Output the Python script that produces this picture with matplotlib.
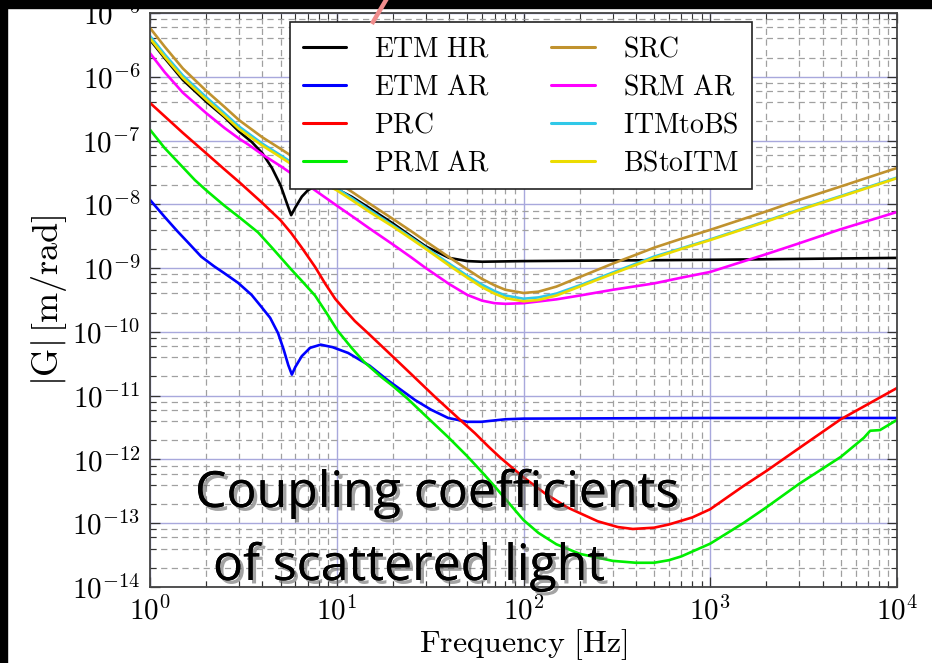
import numpy as np
import matplotlib
matplotlib.use("Agg")
import matplotlib.pyplot as plt
from matplotlib.ticker import FixedLocator, FuncFormatter, NullFormatter
from matplotlib.patches import Rectangle
from matplotlib.lines import Line2D
import matplotlib.patheffects as pe

plt.rcParams['mathtext.fontset'] = 'cm'

# ---------------- data (log10 of |G| in m/rad) ----------------
f_etm_hr = [1, 1.2, 1.5, 2, 2.5, 3, 3.5, 4, 4.5, 5, 5.4, 5.7, 6.0, 6.5, 7, 7.5, 8.5, 10, 12, 15, 20, 25, 30, 40,
            50, 60, 100, 1000, 10000]
g_etm_hr = [-5.42, -5.71, -6.05, -6.39, -6.63, -6.86, -7.02, -7.20, -7.43, -7.70, -7.98, -8.17, -8.05, -7.88,
            -7.78, -7.73, -7.70, -7.76, -7.88, -8.06, -8.30, -8.50, -8.66, -8.84, -8.89, -8.90, -8.89, -8.87, -8.84]

f_etm_ar = [1, 1.2, 1.4, 1.6, 1.88, 2.2, 2.5, 2.96, 3.5, 3.93, 4.4, 4.85, 5.2, 5.5, 5.75, 6.0, 6.5, 7.2, 8.2, 9.5,
            11.5, 15, 18.8, 26.3, 32, 39.5, 50, 59.4, 80, 100, 1000, 10000]
g_etm_ar = [-7.93, -8.20, -8.42, -8.60, -8.82, -8.97, -9.08, -9.23, -9.42, -9.60, -9.78, -10.02, -10.28, -10.52,
            -10.67, -10.55, -10.38, -10.25, -10.20, -10.24, -10.33, -10.53, -10.76, -11.07, -11.22, -11.35, -11.41,
            -11.41, -11.37, -11.36, -11.35, -11.35]

f_prc = [1, 1.5, 2, 2.5, 3, 4, 5, 5.7, 6.5, 7.65, 8.7, 9.8, 11, 12.5, 14.7, 20, 25, 33.6, 45, 55, 65, 75, 100,
         130, 171, 250, 320, 385, 500, 600, 800, 1000, 1500, 2000, 3000, 5000, 10000]
g_prc = [-6.41, -6.88, -7.20, -7.45, -7.65, -7.98, -8.25, -8.45, -8.68, -8.98, -9.25, -9.48, -9.65, -9.83,
         -10.02, -10.39, -10.66, -11.02, -11.36, -11.59, -11.80, -11.97, -12.28, -12.53, -12.75, -12.97, -13.06,
         -13.09, -13.07, -13.02, -12.91, -12.78, -12.42, -12.18, -11.82, -11.37, -10.88]

f_prm_ar = [1, 1.2, 1.5, 1.74, 2, 2.5, 3, 3.79, 4.5, 5.7, 6.5, 7.65, 8.8, 10.1, 12, 14, 17.2, 20, 24, 30, 39.5,
            50, 60, 70, 80, 100, 120, 150, 200, 300, 400, 500, 600, 700, 1000, 1500, 2000, 3000, 5000, 6650,
            7180, 8100, 10000]
g_prm_ar = [-6.83, -7.12, -7.42, -7.62, -7.78, -8.02, -8.20, -8.44, -8.68, -9.02, -9.20, -9.43, -9.70, -9.98,
            -10.25, -10.47, -10.70, -10.85, -11.05, -11.32, -11.65, -11.95, -12.20, -12.42, -12.62, -12.95,
            -13.15, -13.33, -13.48, -13.59, -13.62, -13.62, -13.58, -13.52, -13.32, -13.00, -12.75, -12.38,
            -11.96, -11.66, -11.55, -11.54, -11.38]

f_src = [1, 1.2, 1.5, 2, 2.5, 3, 4, 5, 6, 7, 8, 10, 12, 15, 20, 25, 30, 40, 50, 60, 70, 80, 100, 120, 150, 200,
         300, 400, 500, 700, 1000, 2000, 3000, 5000, 10000]
g_src = [-5.235, -5.53, -5.87, -6.22, -6.47, -6.68, -6.95, -7.13, -7.28, -7.40, -7.50, -7.65, -7.80, -7.99,
         -8.23, -8.42, -8.58, -8.83, -9.02, -9.17, -9.27, -9.34, -9.39, -9.37, -9.29, -9.14, -8.93, -8.79, -8.68,
         -8.54, -8.40, -8.11, -7.93, -7.72, -7.43]

f_srm_ar = [1, 1.2, 1.5, 2, 2.5, 3, 3.35, 4, 5, 6, 7, 8, 10, 12, 15, 20, 25, 30, 40, 50, 60, 70, 80, 100, 150,
            200, 300, 500, 700, 1000, 2000, 3000, 5000, 10000]
g_srm_ar = [-5.63, -5.93, -6.25, -6.57, -6.80, -6.97, -7.06, -7.22, -7.40, -7.56, -7.70, -7.82, -8.02, -8.18,
            -8.38, -8.63, -8.83, -9.00, -9.25, -9.42, -9.51, -9.55, -9.56, -9.55, -9.49, -9.43, -9.34, -9.24,
            -9.15, -9.06, -8.78, -8.61, -8.39, -8.12]

f_itm_bs = [1, 1.2, 1.5, 2, 2.5, 3, 4, 5, 6, 7, 8, 10, 12, 15, 20, 25, 30, 40, 50, 60, 70, 80, 100, 120, 150,
            200, 300, 400, 500, 700, 1000, 2000, 3000, 5000, 10000]
g_itm_bs = [-5.36, -5.65, -5.98, -6.32, -6.57, -6.78, -7.05, -7.23, -7.38, -7.50, -7.60, -7.75, -7.90, -8.09,
            -8.33, -8.52, -8.68, -8.93, -9.12, -9.26, -9.36, -9.43, -9.48, -9.46, -9.40, -9.27, -9.07, -8.93,
            -8.82, -8.69, -8.55, -8.26, -8.08, -7.87, -7.58]

f_bs_itm = [1, 1.2, 1.5, 2, 2.5, 3, 4, 5, 6, 7, 8, 10, 12, 15, 20, 25, 30, 40, 50, 60, 70, 80, 100, 120, 150,
            200, 300, 400, 500, 700, 1000, 2000, 3000, 5000, 10000]
g_bs_itm = [-5.40, -5.69, -6.02, -6.36, -6.61, -6.82, -7.08, -7.26, -7.41, -7.53, -7.63, -7.78, -7.93, -8.12,
            -8.35, -8.54, -8.70, -8.96, -9.15, -9.30, -9.40, -9.47, -9.52, -9.50, -9.43, -9.29, -9.09, -8.95,
            -8.84, -8.70, -8.56, -8.27, -8.09, -7.88, -7.59]

labels = ['ETM HR', 'ETM AR', 'PRC', 'PRM AR', 'SRC', 'SRM AR', 'ITMtoBS', 'BStoITM']
colors = ['#000000', '#0000ff', '#ff0000', '#00ee00', '#c0922e', '#ff00ff', '#30c8e8', '#ecdc00']
series = [(f_etm_hr, g_etm_hr), (f_etm_ar, g_etm_ar), (f_prc, g_prc), (f_prm_ar, g_prm_ar),
          (f_src, g_src), (f_srm_ar, g_srm_ar), (f_itm_bs, g_itm_bs), (f_bs_itm, g_bs_itm)]

x_decades = [0, 1, 2, 3, 4]
y_decades = [-14, -13, -12, -11, -10, -9, -8, -7, -6, -5]

# ---------------- figure ----------------
W, H = 932, 663
fig = plt.figure(figsize=(W / 100, H / 100), dpi=100, facecolor='white')
ax = fig.add_axes([150 / W, 1 - 587 / H, (897 - 150) / W, (587 - 13) / H])

for (fx, gy), lab, col in zip(series, labels, colors):
    ax.plot(fx, 10 ** np.array(gy), color=col, lw=1.9, label='$\\mathrm{' + lab.replace(' ', '\\ ') + '}$',
            solid_capstyle='round', solid_joinstyle='round')

ax.set_xscale('log')
ax.set_yscale('log')
ax.set_xlim(1, 1e4)
ax.set_ylim(1e-14, 1e-5)

xmaj = [10.0 ** d for d in x_decades]
ymaj = [10.0 ** d for d in y_decades]
xmin = [s * 10.0 ** d for d in x_decades[:-1] for s in range(2, 10)]
ymin = [s * 10.0 ** d for d in y_decades[:-1] for s in (2, 4, 6, 8)]
ax.xaxis.set_major_locator(FixedLocator(xmaj))
ax.yaxis.set_major_locator(FixedLocator(ymaj))
ax.xaxis.set_minor_locator(FixedLocator(xmin))
ax.yaxis.set_minor_locator(FixedLocator(ymin))
fmt = FuncFormatter(lambda v, p: '$10^{%d}$' % int(round(np.log10(v))))
ax.xaxis.set_major_formatter(fmt)
ax.yaxis.set_major_formatter(fmt)
ax.xaxis.set_minor_formatter(NullFormatter())
ax.yaxis.set_minor_formatter(NullFormatter())

ax.set_axisbelow(True)
ax.grid(which='major', color='#a8a8dc', lw=1.0, ls='-')
ax.grid(which='minor', color='#a0a0a0', lw=0.9, ls=(0, (5, 3.5)))

ax.tick_params(which='both', direction='in', top=True, right=True, colors='#333333', labelcolor='black')
ax.tick_params(which='major', length=7, width=0.9, labelsize=21, pad=7)
ax.tick_params(which='minor', length=4, width=0.8)
for s in ax.spines.values():
    s.set_color('#444444')
    s.set_linewidth(1.3)

ax.set_xlabel(r'$\mathrm{Frequency}\ [\mathrm{Hz}]$', fontsize=23, labelpad=1)
ax.set_ylabel(r'$|\mathrm{G}|\,[\mathrm{m/rad}]$', fontsize=26, labelpad=2)

leg = ax.legend(ncol=2, loc='upper left', bbox_to_anchor=(290 / W, 1 - 22 / H), bbox_transform=fig.transFigure,
                borderaxespad=0, fancybox=False, framealpha=1, edgecolor='#222222', fontsize=20,
                handlelength=1.58, handletextpad=1.0, columnspacing=2.2, borderpad=0.45, labelspacing=0.36)
leg.get_frame().set_linewidth(1.2)
for h in leg.get_lines():
    h.set_linewidth(2.2)

# overlay slide text
shadow = [pe.withSimplePatchShadow(offset=(2.5, -2.5), shadow_rgbFace='#666666', alpha=0.6), pe.Normal()]
fig.text(195 / W, 1 - 507 / H, 'Coupling coefficients', fontsize=36, family='Open Sans', color='black',
         va='baseline', ha='left', path_effects=shadow, zorder=20)
fig.text(213 / W, 1 - 580 / H, 'of scattered light', fontsize=36, family='Open Sans', color='black',
         va='baseline', ha='left', path_effects=shadow, zorder=20)

# dark slide borders
fig.add_artist(Rectangle((0, 1 - 8 / H), 1, 8 / H, transform=fig.transFigure, color='black', zorder=30))
fig.add_artist(Rectangle((0, 0), 7 / W, 1, transform=fig.transFigure, color='black', zorder=30))
fig.add_artist(Line2D([386 / W, 373 / W], [1.0, 1 - 22 / H], transform=fig.transFigure, color='#f08c8c',
                      lw=3.2, zorder=31))

fig.savefig('out.png', dpi=100, facecolor=fig.get_facecolor())
